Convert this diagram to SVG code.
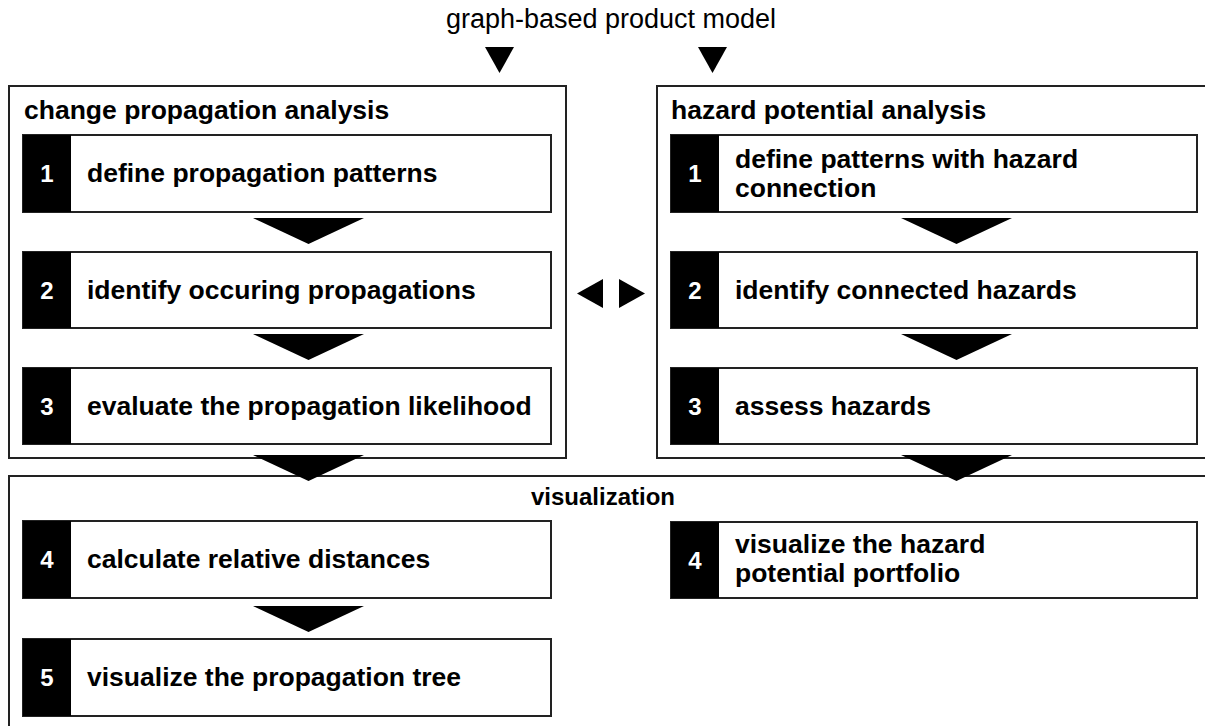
<svg xmlns="http://www.w3.org/2000/svg" width="1205" height="726" viewBox="0 0 1205 726">
<style>
.outer{fill:none;stroke:#222;stroke-width:2}
.box{fill:#fff;stroke:#222;stroke-width:2}
.num{fill:#000}
.t{font-family:"Liberation Sans",Arial,sans-serif;font-weight:bold;font-size:26.5px;fill:#000}
.n{font-family:"Liberation Sans",Arial,sans-serif;font-weight:bold;font-size:24px;fill:#fff;text-anchor:middle}
.h{font-family:"Liberation Sans",Arial,sans-serif;font-weight:bold;font-size:26.5px;fill:#000}
.v{font-family:"Liberation Sans",Arial,sans-serif;font-weight:bold;font-size:24px;fill:#000;text-anchor:middle}
.title{font-family:"Liberation Sans",Arial,sans-serif;font-size:27px;fill:#000;text-anchor:middle}
.arr{fill:#000}
</style>
<rect width="1205" height="726" fill="#fff"/>
<text class="title" x="611" y="28">graph-based product model</text>

<g id="change-propagation-analysis">
<rect class="outer" x="9" y="86" width="557" height="372"/>
<text class="h" x="24" y="119">change propagation analysis</text>
</g>
<g id="hazard-potential-analysis">
<rect class="outer" x="657" y="86" width="560" height="372"/>
<text class="h" x="671" y="119">hazard potential analysis</text>
</g>
<g id="visualization">
<rect class="outer" x="9" y="476" width="1208" height="270"/>
<text class="v" x="603" y="505">visualization</text>
</g>

<g id="step-l1">
<rect class="box" x="23" y="135" width="528" height="77"/>
<rect class="num" x="23" y="135" width="48" height="77"/>
<text class="n" x="47" y="182">1</text>
<text class="t" x="87" y="182">define propagation patterns</text>
</g>
<g id="step-l2">
<rect class="box" x="23" y="252" width="528" height="76"/>
<rect class="num" x="23" y="252" width="48" height="76"/>
<text class="n" x="47" y="299">2</text>
<text class="t" x="87" y="299">identify occuring propagations</text>
</g>
<g id="step-l3">
<rect class="box" x="23" y="368" width="528" height="76"/>
<rect class="num" x="23" y="368" width="48" height="76"/>
<text class="n" x="47" y="415">3</text>
<text class="t" x="87" y="415">evaluate the propagation likelihood</text>
</g>
<g id="step-r1">
<rect class="box" x="671" y="135" width="526" height="77"/>
<rect class="num" x="671" y="135" width="48" height="77"/>
<text class="n" x="695" y="182">1</text>
<text class="t" x="735" y="168">define patterns with hazard</text>
<text class="t" x="735" y="197">connection</text>
</g>
<g id="step-r2">
<rect class="box" x="671" y="252" width="526" height="76"/>
<rect class="num" x="671" y="252" width="48" height="76"/>
<text class="n" x="695" y="299">2</text>
<text class="t" x="735" y="299">identify connected hazards</text>
</g>
<g id="step-r3">
<rect class="box" x="671" y="368" width="526" height="76"/>
<rect class="num" x="671" y="368" width="48" height="76"/>
<text class="n" x="695" y="415">3</text>
<text class="t" x="735" y="415">assess hazards</text>
</g>
<g id="step-l4">
<rect class="box" x="23" y="521" width="528" height="77"/>
<rect class="num" x="23" y="521" width="48" height="77"/>
<text class="n" x="47" y="568">4</text>
<text class="t" x="87" y="568">calculate relative distances</text>
</g>
<g id="step-l5">
<rect class="box" x="23" y="639" width="528" height="77"/>
<rect class="num" x="23" y="639" width="48" height="77"/>
<text class="n" x="47" y="686">5</text>
<text class="t" x="87" y="686">visualize the propagation tree</text>
</g>
<g id="step-r4">
<rect class="box" x="671" y="522" width="526" height="76"/>
<rect class="num" x="671" y="522" width="48" height="76"/>
<text class="n" x="695" y="569">4</text>
<text class="t" x="735" y="553">visualize the hazard</text>
<text class="t" x="735" y="582">potential portfolio</text>
</g>

<g id="connectors">
<polygon class="arr" points="485,47 514,47 499.5,73"/>
<polygon class="arr" points="698,47 727,47 712.5,73"/>
<polygon class="arr" points="253,218 364,218 308.5,244"/>
<polygon class="arr" points="253,334 364,334 308.5,360"/>
<polygon class="arr" points="253,455 364,455 308.5,481"/>
<polygon class="arr" points="253,606 364,606 308.5,632"/>
<polygon class="arr" points="901,218 1012,218 956.5,244"/>
<polygon class="arr" points="901,334 1012,334 956.5,360"/>
<polygon class="arr" points="901,455 1012,455 956.5,481"/>
<polygon class="arr" points="603,279 603,308 577,293.5"/>
<polygon class="arr" points="619,279 619,308 645,293.5"/>
</g>
</svg>
